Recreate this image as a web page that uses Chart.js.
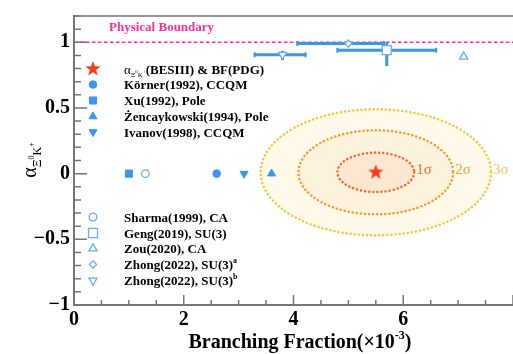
<!DOCTYPE html>
<html>
<head>
<meta charset="utf-8">
<script src="https://cdn.jsdelivr.net/npm/chart.js@4.4.1/dist/chart.umd.min.js"></script>
<style>
  html, body { margin: 0; padding: 0; overflow: hidden; background: #fff; }
  #wrap { width: 522px; height: 354px; }
</style>
</head>
<body>
<div id="wrap"><canvas id="c" width="522" height="354"></canvas></div>
<script>
// ---- data ----
const besiiiBF = 5.5;
const besiiiAlpha = 0.01;
const sigmaLabels = ['1σ', '2σ', '3σ'];
const ellipseHalfBF = [0.70, 1.41, 2.10];
const ellipseHalfAlpha = [0.15, 0.32, 0.48];

const modelNames = ['Körner(1992), CCQM', 'Xu(1992), Pole', 'Żencaykowski(1994), Pole', 'Ivanov(1998), CCQM',
  'Sharma(1999), CA', 'Geng(2019), SU(3)', 'Zou(2020), CA', 'Zhong(2022), SU(3)', 'Zhong(2022), SU(3)'];
const modelSup = ['', '', '', '', '', '', '', 'a', 'b'];
const modelBF = [2.6, 1.0, 3.6, 3.1, 1.3, 5.7, 7.1, 5.0, 3.8];
const modelAlpha = [0, 0, 0, 0, 0, 0.94, 0.89, 0.99, 0.905];
const bfErrLo = [0, 0, 0, 0, 0, 0.9, 0, 0.93, 0.51];
const bfErrHi = [0, 0, 0, 0, 0, 0.9, 0, 0.65, 0.42];
const alphaErrLo = [0, 0, 0, 0, 0, 0.12, 0, 0, 0.04];
const alphaErrHi = [0, 0, 0, 0, 0, 0.06, 0, 0, 0.03];
const modelMarker = ['circle', 'rect', 'triangle', 'triangleDown', 'circle', 'rect', 'triangle', 'diamond', 'triangleDown'];
const modelOpen = [false, false, false, false, true, true, true, true, true];
const modelSize = [3.8, 5, 4.6, 4.6, 3.8, 6.4, 4.8, 3.6, 4.6];

const boundaryAlpha = 1;
const xLabelValues = [0, 2, 4, 6];
const yLabelValues = [-1, -0.5, 0, 0.5, 1];

// ---- styling ----
const SERIF = '"Liberation Serif", "Times New Roman", serif';
const BLUE = '#3b96ee';
const BLUE_OPEN = '#68aef2';
const PINK = '#ff2d9b';
const ellipseFill = ['rgba(240,100,60,0.07)', 'rgba(245,160,60,0.08)', 'rgba(250,205,80,0.13)'];
const ellipseLine = ['#f26a2c', '#f49a30', '#f8c63c'];
const sigmaColor = ['#f06a34', '#f2a23c', '#f7c85c'];

function makeStar(r, color) {
  const c = document.createElement('canvas');
  const s = Math.ceil(r * 2 + 2);
  c.width = c.height = s;
  const g = c.getContext('2d');
  g.fillStyle = color;
  g.beginPath();
  for (let i = 0; i < 10; i++) {
    const rr = i % 2 ? r * 0.42 : r;
    const a = -Math.PI / 2 + i * Math.PI / 5;
    g.lineTo(s / 2 + rr * Math.cos(a), s / 2 + rr * Math.sin(a));
  }
  g.closePath();
  g.fill();
  return c;
}
const starImg = makeStar(8, '#ff3a1c');

function styleOf(kind) {
  if (kind === 'triangleDown') return { pointStyle: 'triangle', rotation: 180 };
  if (kind === 'diamond') return { pointStyle: 'rectRot', rotation: 0 };
  return { pointStyle: kind, rotation: 0 };
}

const datasets = modelNames.map((name, i) => {
  const st = styleOf(modelMarker[i]);
  return {
    label: name,
    data: [{ x: modelBF[i], y: modelAlpha[i] }],
    pointStyle: st.pointStyle,
    rotation: st.rotation,
    pointRadius: modelSize[i],
    backgroundColor: modelOpen[i] ? '#ffffff' : BLUE,
    borderColor: modelOpen[i] ? BLUE_OPEN : BLUE,
    borderWidth: modelOpen[i] ? 1.3 : 1
  };
});
datasets.push({
  label: 'BESIII',
  data: [{ x: besiiiBF, y: besiiiAlpha }],
  pointStyle: starImg,
  pointRadius: 8
});

// draw text pieces one after another (sub/superscripts)
function drawRich(ctx, parts, x, y, align) {
  let w = 0;
  parts.forEach(p => { ctx.font = p.font; w += ctx.measureText(p.text).width; });
  let cx = align === 'center' ? x - w / 2 : x;
  parts.forEach(p => {
    ctx.font = p.font;
    ctx.fillStyle = p.color || '#000';
    ctx.fillText(p.text, cx, y + (p.dy || 0));
    cx += ctx.measureText(p.text).width;
  });
}

function drawMarker(ctx, i, x, y) {
  const st = styleOf(modelMarker[i]);
  ctx.save();
  ctx.fillStyle = modelOpen[i] ? '#ffffff' : BLUE;
  ctx.strokeStyle = modelOpen[i] ? BLUE_OPEN : BLUE;
  ctx.lineWidth = modelOpen[i] ? 1.3 : 1;
  Chart.helpers.drawPoint(ctx, { pointStyle: st.pointStyle, rotation: st.rotation, radius: modelSize[i], borderWidth: ctx.lineWidth }, x, y);
  ctx.restore();
}

const physicsPlugin = {
  id: 'physics',
  beforeDatasetsDraw(chart) {
    const { ctx, chartArea: a, scales: { x, y } } = chart;
    ctx.save();
    ctx.beginPath();
    ctx.rect(a.left, a.top, a.right - a.left, a.bottom - a.top);
    ctx.clip();
    const cx = x.getPixelForValue(besiiiBF), cy = y.getPixelForValue(besiiiAlpha);
    // filled contours, outer first
    for (let k = 2; k >= 0; k--) {
      const rx = x.getPixelForValue(besiiiBF + ellipseHalfBF[k]) - cx;
      const ry = cy - y.getPixelForValue(besiiiAlpha + ellipseHalfAlpha[k]);
      ctx.beginPath();
      ctx.ellipse(cx, cy, rx, ry, 0, 0, Math.PI * 2);
      ctx.fillStyle = ellipseFill[k];
      ctx.fill();
    }
    ctx.lineCap = 'round';
    ctx.setLineDash([0.1, 4]);
    ctx.lineWidth = 2.5;
    for (let k = 2; k >= 0; k--) {
      const rx = x.getPixelForValue(besiiiBF + ellipseHalfBF[k]) - cx;
      const ry = cy - y.getPixelForValue(besiiiAlpha + ellipseHalfAlpha[k]);
      ctx.beginPath();
      ctx.ellipse(cx, cy, rx, ry, 0, 0, Math.PI * 2);
      ctx.strokeStyle = ellipseLine[k];
      ctx.stroke();
      ctx.font = '15px ' + SERIF;
      ctx.fillStyle = sigmaColor[k];
      ctx.textBaseline = 'middle';
      ctx.fillText(sigmaLabels[k], cx + rx + 2, cy - 2);
    }
    // physical boundary
    ctx.lineCap = 'butt';
    ctx.setLineDash([3.5, 2.5]);
    ctx.lineWidth = 1.3;
    ctx.strokeStyle = PINK;
    const by = y.getPixelForValue(boundaryAlpha);
    ctx.beginPath();
    ctx.moveTo(a.left, by);
    ctx.lineTo(a.right, by);
    ctx.stroke();
    ctx.setLineDash([]);
    // error bars
    ctx.strokeStyle = BLUE;
    ctx.lineWidth = 3;
    modelNames.forEach((n, i) => {
      const px = x.getPixelForValue(modelBF[i]), py = y.getPixelForValue(modelAlpha[i]);
      if (bfErrLo[i] || bfErrHi[i]) {
        const x0 = x.getPixelForValue(modelBF[i] - bfErrLo[i]);
        const x1 = x.getPixelForValue(modelBF[i] + bfErrHi[i]);
        ctx.beginPath(); ctx.moveTo(x0, py); ctx.lineTo(x1, py); ctx.stroke();
        ctx.beginPath(); ctx.moveTo(x0, py - 2.5); ctx.lineTo(x0, py + 2.5); ctx.moveTo(x1, py - 2.5); ctx.lineTo(x1, py + 2.5);
        ctx.lineWidth = 2; ctx.stroke(); ctx.lineWidth = 3;
      }
      if (alphaErrLo[i] || alphaErrHi[i]) {
        const y0 = y.getPixelForValue(modelAlpha[i] - alphaErrLo[i]);
        const y1 = y.getPixelForValue(modelAlpha[i] + alphaErrHi[i]);
        ctx.beginPath(); ctx.moveTo(px, y0); ctx.lineTo(px, y1); ctx.stroke();
      }
    });
    ctx.restore();
  },
  afterDraw(chart) {
    const { ctx, chartArea: a, scales: { x, y } } = chart;
    ctx.save();
    // inward ticks and top frame
    ctx.strokeStyle = '#777';
    ctx.lineWidth = 1.5;
    ctx.beginPath();
    x.ticks.forEach(t => {
      const px = x.getPixelForValue(t.value);
      const major = Math.abs(t.value / 2 - Math.round(t.value / 2)) < 1e-6;
      ctx.moveTo(px, a.bottom);
      ctx.lineTo(px, a.bottom - (major ? 10 : 5));
    });
    y.ticks.forEach(t => {
      const py = y.getPixelForValue(t.value);
      const major = Math.abs(t.value * 2 - Math.round(t.value * 2)) < 1e-6;
      ctx.moveTo(a.left, py);
      ctx.lineTo(a.left + (major ? 13 : 7), py);
    });
    ctx.stroke();
    ctx.beginPath();
    ctx.moveTo(a.left, a.top);
    ctx.lineTo(a.right, a.top);
    ctx.stroke();

    ctx.textBaseline = 'alphabetic';
    // physical boundary text
    ctx.font = 'bold 13px ' + SERIF;
    ctx.fillStyle = PINK;
    ctx.fillText('Physical Boundary', 109, 31);

    // legend
    const bold = 'bold 13px ' + SERIF;
    const rows1 = [69, 84.5, 100.5, 116.5, 132];
    const rows2 = [217, 233, 248.5, 264.5, 280.5];
    const mx = 93, tx = 124;
    ctx.drawImage(starImg, mx - starImg.width / 2, rows1[0] - starImg.height / 2);
    drawRich(ctx, [
      { text: 'α', font: '13px ' + SERIF, dy: 0 },
      { text: 'Ξ', font: '7px ' + SERIF, dy: 3 },
      { text: '0', font: '5px ' + SERIF, dy: -1 },
      { text: 'K', font: '7px ' + SERIF, dy: 3 },
      { text: '+', font: '5px ' + SERIF, dy: -1 },
      { text: '(BESIII) & BF(PDG)', font: bold, dy: 0 }
    ], tx, rows1[0] + 4.5, 'left');
    modelNames.forEach((n, i) => {
      const ry = i < 4 ? rows1[i + 1] : rows2[i - 4];
      drawMarker(ctx, i, mx, ry);
      const parts = [{ text: n, font: bold }];
      if (modelSup[i]) parts.push({ text: modelSup[i], font: 'bold 8px ' + SERIF, dy: -6 });
      drawRich(ctx, parts, tx, ry + 4.5, 'left');
    });

    // axis titles
    drawRich(ctx, [
      { text: 'Branching Fraction(×10', font: 'bold 20px ' + SERIF },
      { text: '-3', font: 'bold 12px ' + SERIF, dy: -9 },
      { text: ')', font: 'bold 20px ' + SERIF }
    ], 300, 348, 'center');

    ctx.translate(36, 160);
    ctx.rotate(-Math.PI / 2);
    drawRich(ctx, [
      { text: 'α', font: '20px ' + SERIF },
      { text: 'Ξ', font: '12px ' + SERIF, dy: 5 },
      { text: '0', font: '8px ' + SERIF, dy: -2 },
      { text: 'K', font: '12px ' + SERIF, dy: 5 },
      { text: '+', font: '8px ' + SERIF, dy: -2 }
    ], 0, 0, 'center');
    ctx.restore();
  }
};

new Chart(document.getElementById('c'), {
  type: 'scatter',
  data: { datasets },
  options: {
    responsive: false,
    animation: false,
    devicePixelRatio: 1,
    layout: { padding: { top: 12, right: 2, left: 0, bottom: 0 } },
    plugins: { legend: { display: false }, tooltip: { enabled: false } },
    scales: {
      x: {
        type: 'linear', min: 0, max: 8,
        afterFit: s => { s.height = 49; },
        grid: { display: false, drawTicks: false },
        border: { display: true, color: '#777', width: 2 },
        ticks: {
          stepSize: 0.5, autoSkip: false, maxRotation: 0, padding: 3,
          color: '#000', font: { family: SERIF, size: 20, weight: 'bold' },
          callback: v => xLabelValues.some(l => Math.abs(l - v) < 1e-6) ? String(Math.round(v)) : ''
        }
      },
      y: {
        type: 'linear', min: -1, max: 1.2,
        afterFit: s => { s.width = 74; },
        grid: { display: false, drawTicks: false },
        border: { display: true, color: '#777', width: 2 },
        ticks: {
          stepSize: 0.1, autoSkip: false, padding: 4,
          color: '#000', font: { family: SERIF, size: 20, weight: 'bold' },
          callback: v => {
            const l = yLabelValues.find(l => Math.abs(l - v) < 1e-6);
            return l === undefined ? '' : (l < 0 ? '\u2212' + Math.abs(l) : String(l));
          }
        }
      }
    }
  },
  plugins: [physicsPlugin]
});
</script>
</body>
</html>
